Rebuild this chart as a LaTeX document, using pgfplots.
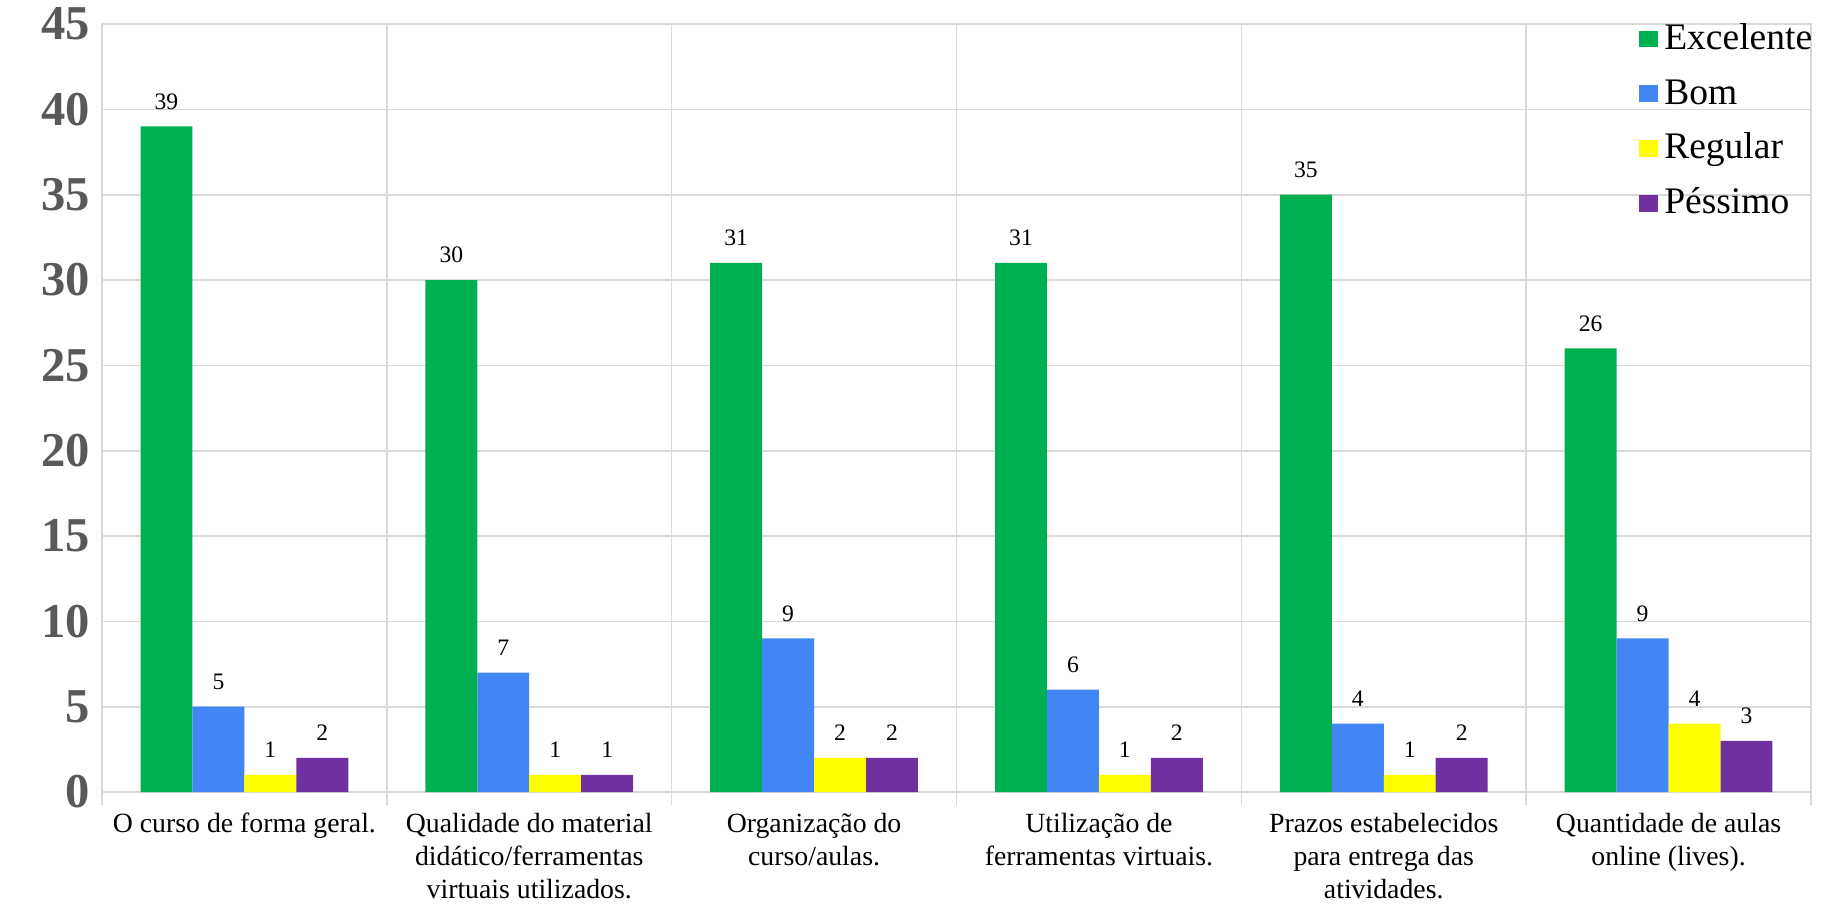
\documentclass[border=0pt]{standalone}
\usepackage{fontspec}
\setmainfont{Liberation Serif}
\usepackage{pgfplots}
\pgfplotsset{compat=1.18}
\definecolor{cExc}{HTML}{00B050}
\definecolor{cBom}{HTML}{4285F4}
\definecolor{cReg}{HTML}{FFFF00}
\definecolor{cPes}{HTML}{7030A0}
\definecolor{cGrid}{HTML}{D9D9D9}
\definecolor{cTick}{HTML}{595959}

\begin{document}
\begin{tikzpicture}
\begin{axis}[
    ybar=0pt, bar width=18.7pt,
    width=615.24pt, height=276.48pt, scale only axis,
    xmin=-0.5, xmax=5.5, ymin=0, ymax=45,
    ytick={0,5,...,45},
    xtick={0,...,5},
    xticklabels={
        {O curso de forma geral.},
        {Qualidade do material\\didático/ferramentas\\virtuais utilizados.},
        {Organização do\\curso/aulas.},
        {Utilização de\\ferramentas virtuais.},
        {Prazos estabelecidos\\para entrega das\\atividades.},
        {Quantidade de aulas\\online (lives).}},
    minor xtick={-0.5,0.5,...,5.5},
    xminorgrids, ymajorgrids,
    axis line style={cGrid, line width=0.6pt},
    major grid style={cGrid, line width=0.6pt},
    minor grid style={cGrid, line width=0.6pt},
    major tick length=0pt,
    minor tick length=4.7pt,
    minor tick style={cGrid, line width=0.6pt},
    tick align=outside, xtick pos=bottom, ytick pos=left,
    xticklabel style={font=\fontsize{10}{12}\selectfont, align=center, yshift=-4pt},
    yticklabel style={font=\fontsize{17.5}{20}\selectfont\bfseries, text=cTick,
        /pgf/number format/assume math mode=true, xshift=-0.7pt},
    nodes near coords,
    every node near coord/.append style={font=\fontsize{8.5}{10}\selectfont, yshift=2.6pt,
        /pgf/number format/assume math mode=true},
    legend style={at={(rel axis cs:1,1)}, anchor=north east, draw=none, fill=none,
        xshift=4.6pt, yshift=3.6pt,
        font=\rmfamily\fontsize{13.5}{16}\selectfont, row sep=5.2pt, column sep=1.3pt,
        nodes={inner sep=1pt, text height=9.5pt, text depth=3pt}},
    legend cell align=left,
    legend image code/.code={\fill[#1,draw=none] (0pt,-2.6pt) rectangle (6.8pt,3.5pt);},
]
\addplot[fill=cExc, draw=none] coordinates {(0,39) (1,30) (2,31) (3,31) (4,35) (5,26)};
\addlegendentry{Excelente}
\addplot[fill=cBom, draw=none] coordinates {(0,5) (1,7) (2,9) (3,6) (4,4) (5,9)};
\addlegendentry{Bom}
\addplot[fill=cReg, draw=none] coordinates {(0,1) (1,1) (2,2) (3,1) (4,1) (5,4)};
\addlegendentry{Regular}
\addplot[fill=cPes, draw=none] coordinates {(0,2) (1,1) (2,2) (3,2) (4,2) (5,3)};
\addlegendentry{Péssimo}
\coordinate (O) at (rel axis cs:0,0);
\end{axis}
\pgfresetboundingbox
\path[use as bounding box] (O) ++(-36.72pt,-39.96pt) rectangle ++(658.44pt,325.08pt);
\end{tikzpicture}
\end{document}
